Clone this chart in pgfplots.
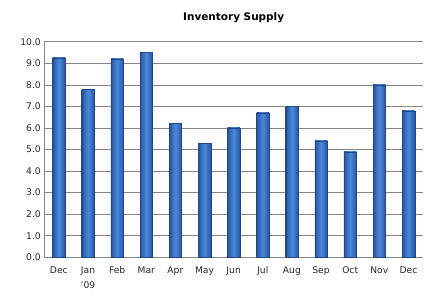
\documentclass[border=0pt]{standalone}
\usepackage{pgfplots}
\pgfplotsset{compat=1.18}
\usepackage{fontspec}
\setmainfont{DejaVu Sans}
\definecolor{baredge}{HTML}{28529C}
\definecolor{barside}{HTML}{3468B8}
\definecolor{barlight}{HTML}{4A89D8}
\definecolor{gridgray}{HTML}{868686}
\pgfdeclarehorizontalshading{barshade}{100bp}{%
  color(0bp)=(baredge); color(25bp)=(baredge); color(34bp)=(barside); color(50bp)=(barlight); color(66bp)=(barside); color(75bp)=(baredge); color(100bp)=(baredge)}
\pgfplotsset{bs/.style={draw=baredge!85!black, line width=0.3pt, fill=barside, shade, shading=barshade, shading angle=0, forget plot}}
\begin{document}
\begin{tikzpicture}
\begin{axis}[
  at={(0,0)}, anchor=south west,
  scale only axis, width=378.7bp, height=215.6bp,
  xmin=-0.5, xmax=12.5, ymin=0, ymax=10,
  xtick={0,...,12},
  xticklabels={Dec,{Jan\\'09},Feb,Mar,Apr,May,Jun,Jul,Aug,Sep,Oct,Nov,Dec},
  x tick label style={align=center, font=\fontsize{9.2}{15}\selectfont, text=black!85, yshift=-6pt},
  ytick={0,1,...,10},
  y tick label style={font=\fontsize{9.2}{11}\selectfont, text=black!85},
  yticklabel style={/pgf/number format/.cd, fixed, fixed zerofill, precision=1, assume math mode=true},
  ymajorgrids, grid style={gridgray, line width=0.6pt},
  axis x line*=bottom, axis y line*=left,
  axis line style={gridgray, line width=0.6pt, -},
  major tick length=0pt,
  title={Inventory Supply}, title style={font=\fontsize{10.5}{12}\selectfont\bfseries, yshift=9pt},
  ybar, bar width=12.5bp, bar shift=0pt,
]
\addplot[bs] coordinates {(0,9.25)};
\addplot[bs] coordinates {(1,7.8)};
\addplot[bs] coordinates {(2,9.2)};
\addplot[bs] coordinates {(3,9.5)};
\addplot[bs] coordinates {(4,6.2)};
\addplot[bs] coordinates {(5,5.3)};
\addplot[bs] coordinates {(6,6.0)};
\addplot[bs] coordinates {(7,6.7)};
\addplot[bs] coordinates {(8,7.0)};
\addplot[bs] coordinates {(9,5.4)};
\addplot[bs] coordinates {(10,4.9)};
\addplot[bs] coordinates {(11,8.0)};
\addplot[bs] coordinates {(12,6.8)};
\end{axis}
\path (-44.3bp,-42.7bp) rectangle (394.7bp,257.3bp);
\end{tikzpicture}
\end{document}
